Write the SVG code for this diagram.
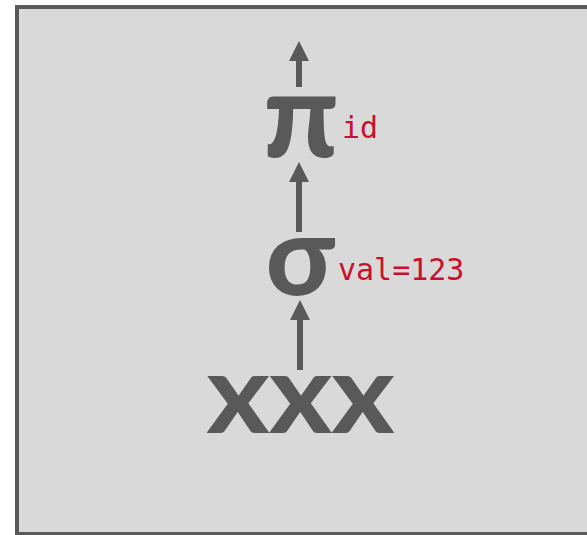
<svg xmlns="http://www.w3.org/2000/svg" width="587" height="535" viewBox="0 0 587 535">
  <defs>
    <marker id="head" markerUnits="userSpaceOnUse" markerWidth="20" markerHeight="20" refX="0" refY="10" orient="auto">
      <path d="M0,0 L20,10 L0,20 z" fill="#595959"/>
    </marker>
  </defs>
  <style>
    .sym { font-family: Lato, "Noto Sans", sans-serif; font-weight: 900; fill: #595959; text-anchor: middle; }
    .lbl { font-family: "DejaVu Sans Mono", "Liberation Mono", monospace; fill: #c8102e; font-size: 30px; }
    .conn { stroke: #595959; stroke-width: 6; fill: none; marker-end: url(#head); }
  </style>
  <rect width="587" height="535" fill="#ffffff"/>
  <g id="frame">
    <rect x="17" y="7" width="600" height="527" fill="#d9d9d9" stroke="#595959" stroke-width="4"/>
  </g>
  <g id="connectors">
    <line class="conn" x1="299" y1="87" x2="299" y2="61"/>
    <line class="conn" x1="299" y1="232" x2="299" y2="182"/>
    <line class="conn" x1="300" y1="370" x2="300" y2="320"/>
  </g>
  <g id="node-pi">
    <text class="sym" x="301" y="157" font-size="118">π</text>
    <text class="lbl" x="342" y="138">id</text>
  </g>
  <g id="node-sigma">
    <text class="sym" x="300" y="295" font-size="110">σ</text>
    <text class="lbl" x="338" y="280">val=123</text>
  </g>
  <g id="node-xxx">
    <text class="sym" transform="translate(302.5,431.5) scale(1.12,1)" x="0" y="0" font-size="77" letter-spacing="3.5" stroke="#595959" stroke-width="2" stroke-linejoin="miter">XXX</text>
  </g>
</svg>
